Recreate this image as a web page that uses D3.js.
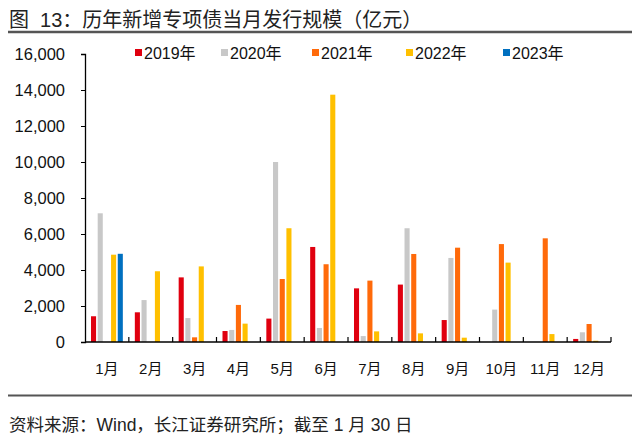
<!DOCTYPE html>
<html><head><meta charset="utf-8">
<script src="https://cdn.jsdelivr.net/npm/d3@7"></script>
<style>
body{margin:0;background:#fff;}
svg{display:block;}
text{font-family:"Liberation Sans",Arial,"Noto Sans CJK SC",sans-serif;}
.cjk{font-family:"Liberation Sans","Noto Sans CJK SC",sans-serif;}
</style></head>
<body>
<script>
const months = ["1月","2月","3月","4月","5月","6月","7月","8月","9月","10月","11月","12月"];
const seriesNames = ["2019年","2020年","2021年","2022年","2023年"];
const colors = ["#E0000F","#C8C8C8","#FF6A0A","#FFC000","#0070C0"];
const v2019 = [1430,1650,3590,610,1300,5280,2980,3190,1220,0,0,170];
const v2020 = [7150,2330,1330,670,10000,780,330,6320,4670,1800,0,540];
const v2021 = [0,0,260,2060,3500,4320,3410,4890,5240,5440,5760,1000];
const v2022 = [4850,3930,4200,1020,6320,13740,590,480,240,4410,440,70];
const v2023 = [4900,0,0,0,0,0,0,0,0,0,0,0];
const yTicks = [0,2000,4000,6000,8000,10000,12000,14000,16000];
const seriesValues = [v2019,v2020,v2021,v2022,v2023];

const W=640,H=437;
const svg=d3.select("body").append("svg").attr("width",W).attr("height",H);

// title
svg.append("text").attr("class","cjk").attr("x",9).attr("y",27).attr("font-size",20).attr("fill","#222")
  .attr("xml:space","preserve").style("white-space","pre")
  .text("图  13：历年新增专项债当月发行规模（亿元）");
svg.append("line").attr("x1",8).attr("x2",632).attr("y1",32).attr("y2",32).attr("stroke","#555").attr("stroke-width",2.5);

// footer
svg.append("line").attr("x1",8).attr("x2",632).attr("y1",395.5).attr("y2",395.5).attr("stroke","#555").attr("stroke-width",2);
svg.append("text").attr("class","cjk").attr("x",9).attr("y",431).attr("font-size",17.5).attr("fill","#222")
  .text("资料来源：Wind，长江证券研究所；截至 1 月 30 日");

const x0=85,x1=611,yTop=54,yBot=342;
const x=d3.scaleBand().domain(months).range([x0,x1]).paddingInner(0).paddingOuter(0);
const y=d3.scaleLinear().domain([0,16000]).range([yBot,yTop]);
const xs=d3.scaleBand().domain(d3.range(5)).range([6,x.bandwidth()-6]).paddingInner(0.24);

const g=svg.append("g");
months.forEach((m,i)=>{
  seriesValues.forEach((vals,s)=>{
    const v=vals[i];
    if(v<=0) return;
    g.append("rect").attr("x",x(m)+xs(s)).attr("width",xs.bandwidth())
      .attr("y",y(v)).attr("height",yBot-y(v)).attr("fill",colors[s]);
  });
});

// y axis
const ya=svg.append("g").attr("transform",`translate(${x0},0)`)
  .call(d3.axisLeft(y).tickValues(yTicks).tickSize(4).tickPadding(16).tickFormat(d3.format(",")));
ya.select(".domain").attr("stroke","#000").attr("stroke-width",1.3);
ya.selectAll(".tick line").attr("stroke","#000");
ya.selectAll(".tick text").attr("font-size",16.5).attr("fill","#111").attr("font-family","Liberation Sans,Arial,sans-serif");

// x axis
svg.append("line").attr("x1",x0).attr("x2",x1).attr("y1",yBot).attr("y2",yBot).attr("stroke","#000").attr("stroke-width",1.3);
months.forEach((m,i)=>{
  const xx=x(m)+x.bandwidth();
  svg.append("line").attr("x1",xx).attr("x2",xx).attr("y1",yBot).attr("y2",yBot-5).attr("stroke","#000").attr("stroke-width",1.2);
  svg.append("text").attr("class","cjk").attr("x",x(m)+x.bandwidth()/2).attr("y",374).attr("text-anchor","middle")
    .attr("font-size",15).attr("fill","#111").text(m);
});

// legend
const legX=[135,221,312,406,503];
seriesNames.forEach((n,s)=>{
  svg.append("rect").attr("x",legX[s]).attr("y",49).attr("width",7).attr("height",7).attr("fill",colors[s]);
  svg.append("text").attr("class","cjk").attr("x",legX[s]+9).attr("y",58.5).attr("font-size",16).attr("fill","#111").text(n);
});
</script>
</body></html>
